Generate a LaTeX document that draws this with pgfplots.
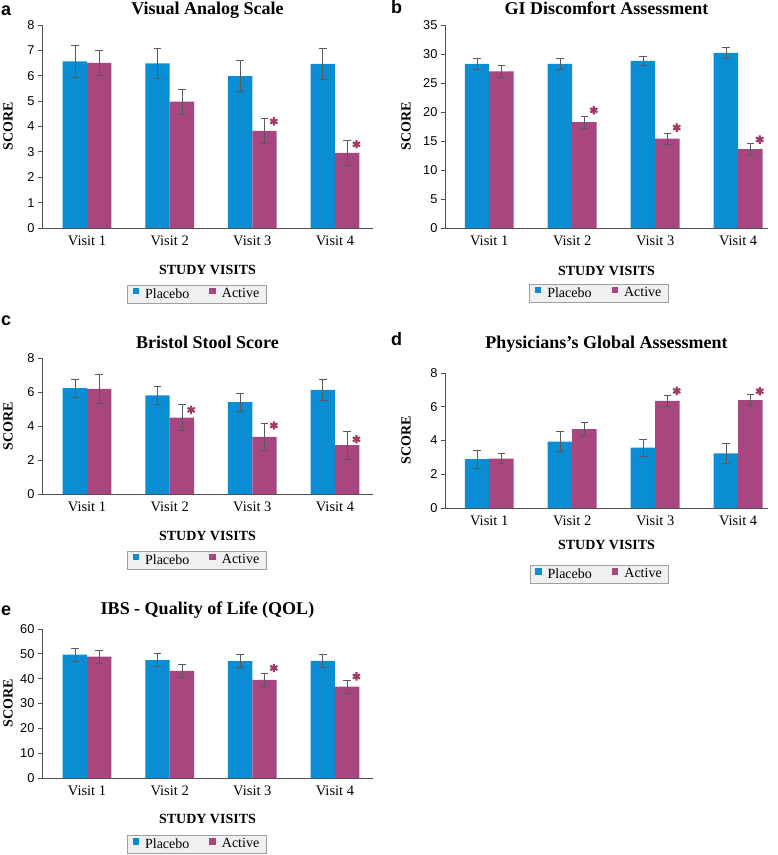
\documentclass[border=0pt]{standalone}
\usepackage{pgfplots}
\pgfplotsset{compat=1.18}
\usepackage{fontspec}
\setmainfont{Liberation Serif}
\newfontfamily\arial{Liberation Sans}
\definecolor{plac}{HTML}{0B8DD4}
\definecolor{actv}{HTML}{A8467F}
\definecolor{astc}{HTML}{A23A68}
\definecolor{axc}{HTML}{505050}
\definecolor{errc}{HTML}{5A5A5A}
\pgfplotsset{
  every axis title/.style={at={(0.5,1)}, anchor=base, font=\bfseries\fontsize{18}{20}\selectfont},
  every axis x label/.style={at={(axis description cs:0.5,0)}, anchor=center, font=\bfseries\fontsize{14}{16}\selectfont},
  every axis y label/.style={rotate=90, anchor=center, font=\bfseries\fontsize{14}{16}\selectfont},
  panel/.style={
    scale only axis,
    axis x line*=bottom, axis y line*=left,
    axis line style={draw=axc, line width=0.9pt},
    xtick={0,1,2,3},
    xticklabels={Visit 1,Visit 2,Visit 3,Visit 4},
    xtick style={draw=none},
    ytick style={draw=axc, line width=0.8pt},
    tick align=outside,
    major tick length=4pt,
    ymin=0,
    xticklabel style={font=\fontsize{14.5}{16}\selectfont},
    yticklabel style={font=\arial\fontsize{12.8}{14}\selectfont, /pgf/number format/assume math mode=true},
    xlabel={STUDY VISITS},
    ylabel={SCORE},
    legend columns=2,
    legend style={draw=gray!75, fill=gray!12, line width=0.6pt,
      font=\fontsize{14}{16}\selectfont, inner xsep=5pt, inner ysep=1.5pt, anchor=center,
      /tikz/every odd column/.append style={column sep=4pt},
      /tikz/every even column/.append style={column sep=18pt}},
    legend image code/.code={\fill[##1] (0pt,-0.5pt) rectangle (6.5pt,6pt);},
    clip=false,
  },
  pbar/.style={ybar, bar width=0.295, bar shift=-0.1475, fill=plac, draw=none},
  abar/.style={ybar, bar width=0.295, bar shift=0.1475, fill=actv, draw=none},
  errs/.style={forget plot, draw=none, mark=none,
    error bars/.cd, y dir=both, y explicit,
    error bar style={draw=errc, line width=0.6pt},
    error mark options={rotate=90, draw=errc, mark size=3.8pt, line width=0.6pt}},
  star/.style={only marks, mark=asterisk, mark size=4.2pt, line width=2.1pt, color=astc, forget plot},
}
\begin{document}
\begin{tikzpicture}
\useasboundingbox (0pt,0pt) rectangle (778pt,-855pt);
% ---------- a
\begin{axis}[panel, at={(42pt,-228pt)}, anchor=south west, width=331pt, height=203pt,
  xmin=-0.545, xmax=3.46, ymax=8, ytick={0,1,...,8},
  title={Visual Analog Scale}, title style={yshift=11pt},
  xlabel style={yshift=-42pt},
  ylabel style={at={(axis description cs:-0.1027,0.5)}},
  legend style={at={(axis description cs:0.468,-0.325)}}]
\addplot[pbar] coordinates {(0,6.57) (1,6.49) (2,5.99) (3,6.47)};
\addlegendentry{Placebo}
\addplot[abar] coordinates {(0,6.51) (1,4.98) (2,3.83) (3,2.96)};
\addlegendentry{Active}
\addplot[errs] coordinates {(-0.1475,6.57) +- (0,0.62) (0.8525,6.49) +- (0,0.6) (1.8525,5.99) +- (0,0.62) (2.8525,6.47) +- (0,0.6)};
\addplot[errs] coordinates {(0.1475,6.51) +- (0,0.5) (1.1475,4.98) +- (0,0.5) (2.1475,3.83) +- (0,0.5) (3.1475,2.96) +- (0,0.5)};
\addplot[star] coordinates {(2.26,4.2) (3.26,3.3)};
\end{axis}
% ---------- b
\begin{axis}[panel, at={(445pt,-228pt)}, anchor=south west, width=323pt, height=203pt,
  xmin=-0.533, xmax=3.36, ymax=35, ytick={0,5,...,35},
  title={GI Discomfort Assessment}, title style={yshift=11pt},
  xlabel style={yshift=-43pt},
  ylabel style={at={(axis description cs:-0.1207,0.5)}},
  legend style={at={(axis description cs:0.477,-0.320)}}]
\addplot[pbar] coordinates {(0,28.3) (1,28.3) (2,28.8) (3,30.2)};
\addlegendentry{Placebo}
\addplot[abar] coordinates {(0,27.0) (1,18.25) (2,15.4) (3,13.6)};
\addlegendentry{Active}
\addplot[errs] coordinates {(-0.1475,28.3) +- (0,0.9) (0.8525,28.3) +- (0,0.9) (1.8525,28.8) +- (0,0.8) (2.8525,30.2) +- (0,0.9)};
\addplot[errs] coordinates {(0.1475,27.0) +- (0,1.0) (1.1475,18.25) +- (0,1.0) (2.1475,15.4) +- (0,1.0) (3.1475,13.6) +- (0,1.0)};
\addplot[star] coordinates {(1.26,20.3) (2.26,17.3) (3.26,15.25)};
\end{axis}
% ---------- c
\begin{axis}[panel, at={(42pt,-494pt)}, anchor=south west, width=331pt, height=136pt,
  xmin=-0.545, xmax=3.46, ymax=8, ytick={0,2,...,8},
  title={Bristol Stool Score}, title style={yshift=10pt},
  xlabel style={yshift=-42pt},
  ylabel style={at={(axis description cs:-0.1027,0.5)}},
  legend style={at={(axis description cs:0.468,-0.485)}}]
\addplot[pbar] coordinates {(0,6.23) (1,5.80) (2,5.40) (3,6.13)};
\addlegendentry{Placebo}
\addplot[abar] coordinates {(0,6.19) (1,4.50) (2,3.36) (3,2.87)};
\addlegendentry{Active}
\addplot[errs] coordinates {(-0.1475,6.23) +- (0,0.53) (0.8525,5.80) +- (0,0.55) (1.8525,5.40) +- (0,0.51) (2.8525,6.13) +- (0,0.59)};
\addplot[errs] coordinates {(0.1475,6.19) +- (0,0.84) (1.1475,4.50) +- (0,0.78) (2.1475,3.36) +- (0,0.79) (3.1475,2.87) +- (0,0.8)};
\addplot[star] coordinates {(1.26,4.95) (2.26,4.03) (3.26,3.22)};
\end{axis}
% ---------- d
\begin{axis}[panel, at={(445pt,-508pt)}, anchor=south west, width=323pt, height=135pt,
  xmin=-0.533, xmax=3.36, ymax=8, ytick={0,2,...,8},
  title={Physicians’s Global Assessment}, title style={yshift=25pt},
  xlabel style={yshift=-37pt},
  ylabel style={at={(axis description cs:-0.1207,0.5)}},
  legend style={at={(axis description cs:0.478,-0.489)}}]
\addplot[pbar] coordinates {(0,2.89) (1,3.93) (2,3.58) (3,3.24)};
\addlegendentry{Placebo}
\addplot[abar] coordinates {(0,2.93) (1,4.68) (2,6.35) (3,6.40)};
\addlegendentry{Active}
\addplot[errs] coordinates {(-0.1475,2.89) +- (0,0.55) (0.8525,3.93) +- (0,0.59) (1.8525,3.58) +- (0,0.51) (2.8525,3.24) +- (0,0.57)};
\addplot[errs] coordinates {(0.1475,2.93) +- (0,0.31) (1.1475,4.68) +- (0,0.39) (2.1475,6.35) +- (0,0.31) (3.1475,6.40) +- (0,0.32)};
\addplot[star] coordinates {(2.26,6.94) (3.26,6.92)};
\end{axis}
% ---------- e
\begin{axis}[panel, at={(42pt,-778pt)}, anchor=south west, width=331pt, height=149pt,
  xmin=-0.545, xmax=3.46, ymax=60, ytick={0,10,...,60},
  title={IBS - Quality of Life (QOL)}, title style={yshift=15pt},
  xlabel style={yshift=-41pt},
  ylabel style={at={(axis description cs:-0.1027,0.5)}},
  legend style={at={(axis description cs:0.468,-0.443)}}]
\addplot[pbar] coordinates {(0,49.7) (1,47.5) (2,47.1) (3,47.2)};
\addlegendentry{Placebo}
\addplot[abar] coordinates {(0,48.9) (1,43.1) (2,39.5) (3,36.8)};
\addlegendentry{Active}
\addplot[errs] coordinates {(-0.1475,49.7) +- (0,2.5) (0.8525,47.5) +- (0,2.6) (1.8525,47.1) +- (0,2.7) (2.8525,47.2) +- (0,2.6)};
\addplot[errs] coordinates {(0.1475,48.9) +- (0,2.7) (1.1475,43.1) +- (0,2.7) (2.1475,39.5) +- (0,2.6) (3.1475,36.8) +- (0,2.6)};
\addplot[star] coordinates {(2.26,44.3) (3.26,40.9)};
\end{axis}
% ---------- panel letters
\begin{scope}[every node/.style={anchor=base west, inner sep=0pt, font=\arial\bfseries\fontsize{18}{20}\selectfont}]
\node at (1pt,-15pt) {a};
\node at (391pt,-13pt) {b};
\node at (1pt,-325pt) {c};
\node at (391pt,-345pt) {d};
\node at (1pt,-615pt) {e};
\end{scope}
\end{tikzpicture}
\end{document}
